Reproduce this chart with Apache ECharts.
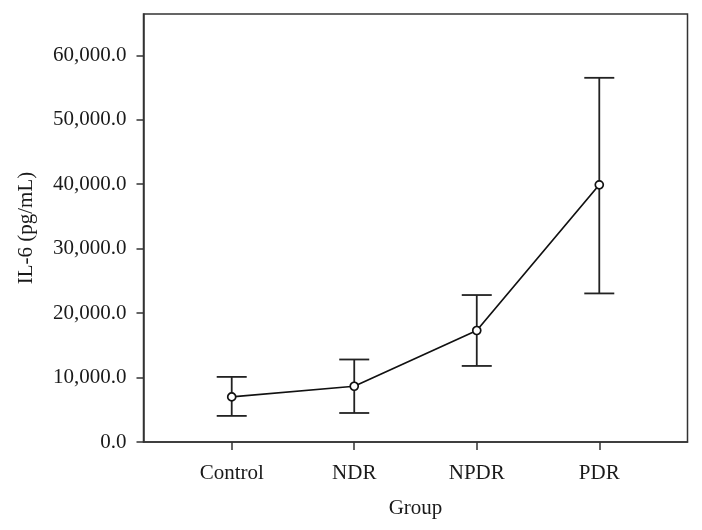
<!DOCTYPE html>
<html>
<head>
<meta charset="utf-8">
<script src="https://cdn.jsdelivr.net/npm/echarts@6/dist/echarts.min.js"></script>
<style>html,body{margin:0;padding:0;background:#fff}#c{width:702px;height:530px}</style>
</head>
<body>
<div id="c"></div>
<script>
const categories = ['Control', 'NDR', 'NPDR', 'PDR'];
const means = [7000, 8650, 17300, 39900];
const upper = [10100, 12800, 22800, 56500];
const lower = [4050, 4500, 11800, 23050];
const yTicks = [0, 10000, 20000, 30000, 40000, 50000, 60000];

const FONT = 'Liberation Serif';
const FS = 21;
const chart = echarts.init(document.getElementById('c'), null, {renderer: 'canvas'});
const positions = categories.map((c, i) => i + 1);

chart.setOption({
  animation: false,
  backgroundColor: '#fff',
  grid: {left: 143.5, right: 14.5, top: 14, bottom: 88, show: true, borderColor: '#333', borderWidth: 1.5, backgroundColor: 'transparent'},
  xAxis: {
    type: 'value', min: 0.28, max: 4.72,
    name: 'Group', nameLocation: 'middle', nameGap: 56,
    nameTextStyle: {fontFamily: FONT, fontSize: FS, color: '#1a1a1a'},
    axisLine: {show: true, lineStyle: {color: '#333', width: 1.5}},
    axisTick: {show: true, length: 8, lineStyle: {color: '#333', width: 1.5}, customValues: positions},
    axisLabel: {customValues: positions, formatter: v => categories[Math.round(v) - 1] || '', fontFamily: FONT, fontSize: FS, color: '#1a1a1a', margin: 21},
    splitLine: {show: false}
  },
  yAxis: {
    type: 'value', min: 0, max: 66400,
    name: 'IL-6 (pg/mL)', nameLocation: 'middle', nameGap: 107,
    nameTextStyle: {fontFamily: FONT, fontSize: FS, color: '#1a1a1a'},
    axisLine: {show: true, lineStyle: {color: '#333', width: 1.5}},
    axisTick: {show: true, length: 7, lineStyle: {color: '#333', width: 1.5}, customValues: yTicks},
    axisLabel: {customValues: yTicks, formatter: v => v.toLocaleString('en-US', {minimumFractionDigits: 1, maximumFractionDigits: 1}), fontFamily: FONT, fontSize: FS, color: '#1a1a1a', margin: 17},
    splitLine: {show: false}
  },
  series: [
    {
      type: 'custom',
      data: positions.map((p, i) => [p, lower[i], upper[i]]),
      renderItem: function (params, api) {
        const lo = api.coord([api.value(0), api.value(1)]);
        const hi = api.coord([api.value(0), api.value(2)]);
        const hw = 15;
        const st = {stroke: '#222', lineWidth: 1.8, fill: null};
        return {type: 'group', children: [
          {type: 'line', shape: {x1: hi[0], y1: hi[1], x2: lo[0], y2: lo[1]}, style: st},
          {type: 'line', shape: {x1: hi[0] - hw, y1: hi[1], x2: hi[0] + hw, y2: hi[1]}, style: st},
          {type: 'line', shape: {x1: lo[0] - hw, y1: lo[1], x2: lo[0] + hw, y2: lo[1]}, style: st}
        ]};
      },
      z: 2
    },
    {
      type: 'line',
      data: positions.map((p, i) => [p, means[i]]),
      symbol: 'circle', symbolSize: 8, showSymbol: true,
      lineStyle: {color: '#111', width: 1.7},
      itemStyle: {color: '#fff', borderColor: '#111', borderWidth: 1.7},
      z: 3
    }
  ]
});
</script>
</body>
</html>
